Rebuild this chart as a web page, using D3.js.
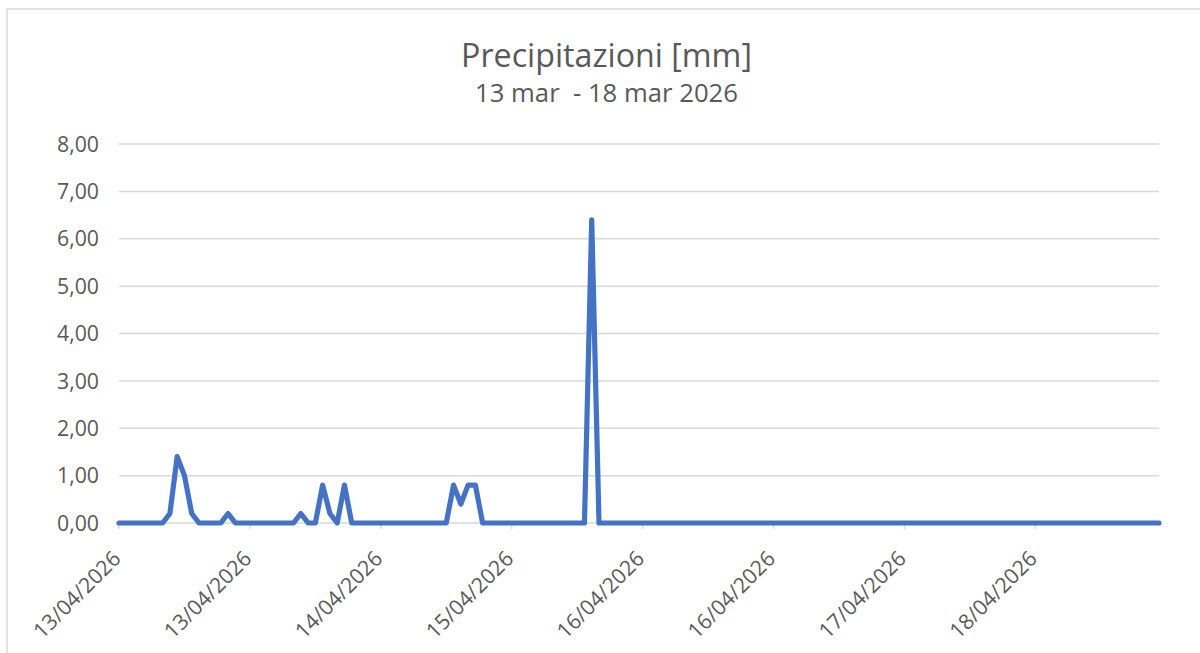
<!DOCTYPE html>
<html>
<head>
<meta charset="utf-8">
<script src="https://cdn.jsdelivr.net/npm/d3@7"></script>
<style>
  html, body { margin: 0; padding: 0; background: #fff; }
  svg { display: block; }
  text { font-family: "Open Sans", "Noto Sans", sans-serif; fill: #595959; }
</style>
</head>
<body>
<svg id="chart" width="1200" height="653"></svg>
<script>
// ---- Data (hourly precipitation, mm) ----
const title = "Precipitazioni [mm]";
const subtitle = "13 mar  - 18 mar 2026";

const day1 = [0,0,0,0,0,0,0,0.2,1.4,1.0,0.2,0,0,0,0,0.2,0,0,0,0,0,0,0,0];
const day2 = [0,0.2,0,0,0.8,0.2,0,0.8,0,0,0,0,0,0,0,0,0,0,0,0,0,0,0.8,0.4];
const day3 = [0.8,0.8,0,0,0,0,0,0,0,0,0,0,0,0,0,0,0,6.4,0,0,0,0,0,0];
const day4 = [0,0,0,0,0,0,0,0,0,0,0,0,0,0,0,0,0,0,0,0,0,0,0,0];
const day5 = [0,0,0,0,0,0,0,0,0,0,0,0,0,0,0,0,0,0,0,0,0,0,0,0];
const day6 = [0,0,0,0,0,0,0,0,0,0,0,0,0,0,0,0,0,0,0,0,0,0,0,0];
const values = [].concat(day1, day2, day3, day4, day5, day6);

// category = hour index since 13/04/2026 00:00
const categories = values.map((_, i) => i);
const tickEvery = 18;
const xTickLabels = ["13/04/2026","13/04/2026","14/04/2026","15/04/2026","16/04/2026","16/04/2026","17/04/2026","18/04/2026"];
const yTicks = [0,1,2,3,4,5,6,7,8];

(function () {
// ---- Layout ----
const svg = d3.select("#chart");
const mLeft = 119, mRight = 1159, mTop = 144, mBottom = 523;

const x = d3.scalePoint().domain(categories).range([mLeft, mRight]);
const y = d3.scaleLinear().domain([0, 8]).range([mBottom, mTop]);
const fmt = v => v.toFixed(2).replace(".", ",");

// chart frame (partially visible)
svg.append("path")
  .attr("d", "M7,653 L7,9 L1200,9")
  .attr("fill", "none").attr("stroke", "#d9d9d9").attr("stroke-width", 1.5);

function fit(sel, w, base) {
  sel.style("font-size", base + "px");
  const len = sel.node().getComputedTextLength();
  sel.style("font-size", (base * w / len).toFixed(2) + "px");
}

// titles
const t1 = svg.append("text").attr("x", 606.5).attr("y", 67)
  .attr("text-anchor", "middle").text(title);
fit(t1, 291, 28);
const t2 = svg.append("text").attr("x", 606.5).attr("y", 102)
  .attr("text-anchor", "middle").style("white-space", "pre").text(subtitle);
fit(t2, 263, 20);

// gridlines
svg.append("g").selectAll("line").data(yTicks.slice(1)).join("line")
  .attr("x1", mLeft).attr("x2", mRight)
  .attr("y1", d => y(d)).attr("y2", d => y(d))
  .attr("stroke", "#d9d9d9").attr("stroke-width", 1.5);

// y axis labels
const yl = svg.append("g").selectAll("text").data(yTicks).join("text")
  .attr("x", 99).attr("y", d => y(d)).attr("dy", "0.36em")
  .attr("text-anchor", "end").text(fmt);
{
  const probe = yl.filter(d => d === 8);
  probe.style("font-size", "20px");
  const len = probe.node().getComputedTextLength();
  yl.style("font-size", (20 * 42 / len).toFixed(2) + "px");
}

// x axis line + ticks
svg.append("line").attr("x1", mLeft).attr("x2", mRight)
  .attr("y1", mBottom).attr("y2", mBottom)
  .attr("stroke", "#d9d9d9").attr("stroke-width", 1.5);

const tickCats = categories.filter(c => c % tickEvery === 0);
svg.append("g").selectAll("line").data(tickCats).join("line")
  .attr("x1", d => x(d)).attr("x2", d => x(d))
  .attr("y1", mBottom).attr("y2", mBottom + 6)
  .attr("stroke", "#d9d9d9").attr("stroke-width", 1.5);

const xl = svg.append("g").selectAll("text").data(tickCats).join("text")
  .attr("text-anchor", "end")
  .attr("transform", d => `translate(${x(d) + 3},${mBottom + 37}) rotate(-45)`)
  .text((d, i) => xTickLabels[i]);
xl.style("font-size", yl.style("font-size"));

// line
const line = d3.line().x((d, i) => x(categories[i])).y(d => y(d));
svg.append("path").datum(values)
  .attr("d", line)
  .attr("fill", "none")
  .attr("stroke", "#4472C4")
  .attr("stroke-width", 5.2)
  .attr("stroke-linejoin", "round")
  .attr("stroke-linecap", "round");
})();
</script>
</body>
</html>
